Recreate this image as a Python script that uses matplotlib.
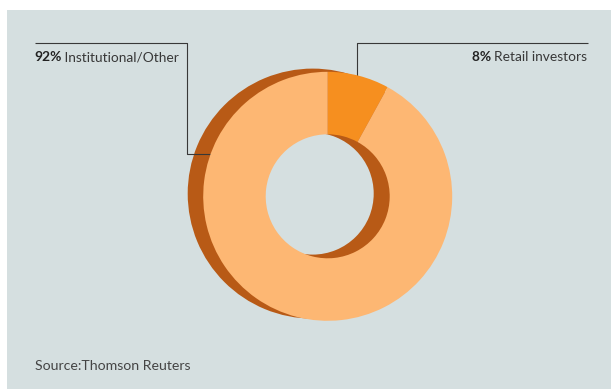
import matplotlib
matplotlib.use('agg')
from matplotlib import pyplot as plt
from matplotlib.patches import Rectangle

groups = ['Retail investors', 'Institutional/Other']
shares = [8, 92]
source = 'Source:Thomson Reuters'

W, H = 611, 389
bg = '#d5dfe0'
ring_colors = ['#f68f1f', '#fdb773']
side_color = '#b85a16'
ink = '#383838'

plt.rcParams['font.family'] = ['Lato', 'DejaVu Sans']

fig = plt.figure(figsize=(W / 100, H / 100), dpi=100, facecolor='white')
ax = fig.add_axes([0, 0, 1, 1])
ax.set_axis_off()

# grey panel, white strip on top and left
ax.add_patch(Rectangle((7, 0), W - 7, H - 10, facecolor=bg, edgecolor='none', zorder=0))

cx, cy = 327.7, H - 196.3
r_out, r_in = 124.5, 62.0

# back face of the ring, shifted left/up for depth
ax.pie([sum(shares)], colors=[side_color], radius=r_out + 0.5,
       center=(cx - 15, cy + 2.7), startangle=90, counterclock=False,
       wedgeprops=dict(width=r_out - r_in + 1.5, edgecolor='none', zorder=1),
       frame=True)

# leader lines
ax.plot([35, 187, 187, 212], [H - 42.5, H - 42.5, H - 154, H - 154],
        color=ink, lw=0.8, zorder=2, solid_capstyle='butt')
ax.plot([588, 356.7, 356.7], [H - 42.5, H - 42.5, H - 90],
        color=ink, lw=0.8, zorder=2, solid_capstyle='butt')

# front face
ax.pie(shares, colors=ring_colors, radius=r_out, center=(cx, cy),
       startangle=90, counterclock=False,
       wedgeprops=dict(width=r_out - r_in, edgecolor='none', zorder=3),
       frame=True)

ax.set_xlim(0, W)
ax.set_ylim(0, H)
ax.set_aspect('auto')

fs = 9.9
# left label: bold share then group name
t1 = ax.text(34, H - 61, f'{shares[1]}%', fontsize=fs, fontweight='bold',
             color='#222222', ha='left', va='baseline', zorder=5)
ax.annotate(f' {groups[1]}', xy=(1, 0), xycoords=t1, fontsize=fs,
            color=ink, ha='left', va='bottom', zorder=5)

# right label, right aligned
t2 = ax.text(587, H - 61, groups[0], fontsize=fs, color=ink,
             ha='right', va='baseline', zorder=5)
ax.annotate(f'{shares[0]}% ', xy=(0, 0), xycoords=t2, fontsize=fs,
            fontweight='bold', color='#222222', ha='right', va='bottom', zorder=5)

ax.text(35, H - 366, source, fontsize=10.2, color='#454545',
        ha='left', va='center', zorder=5)

fig.savefig('out.png', dpi=100, facecolor='white')
plt.close(fig)
